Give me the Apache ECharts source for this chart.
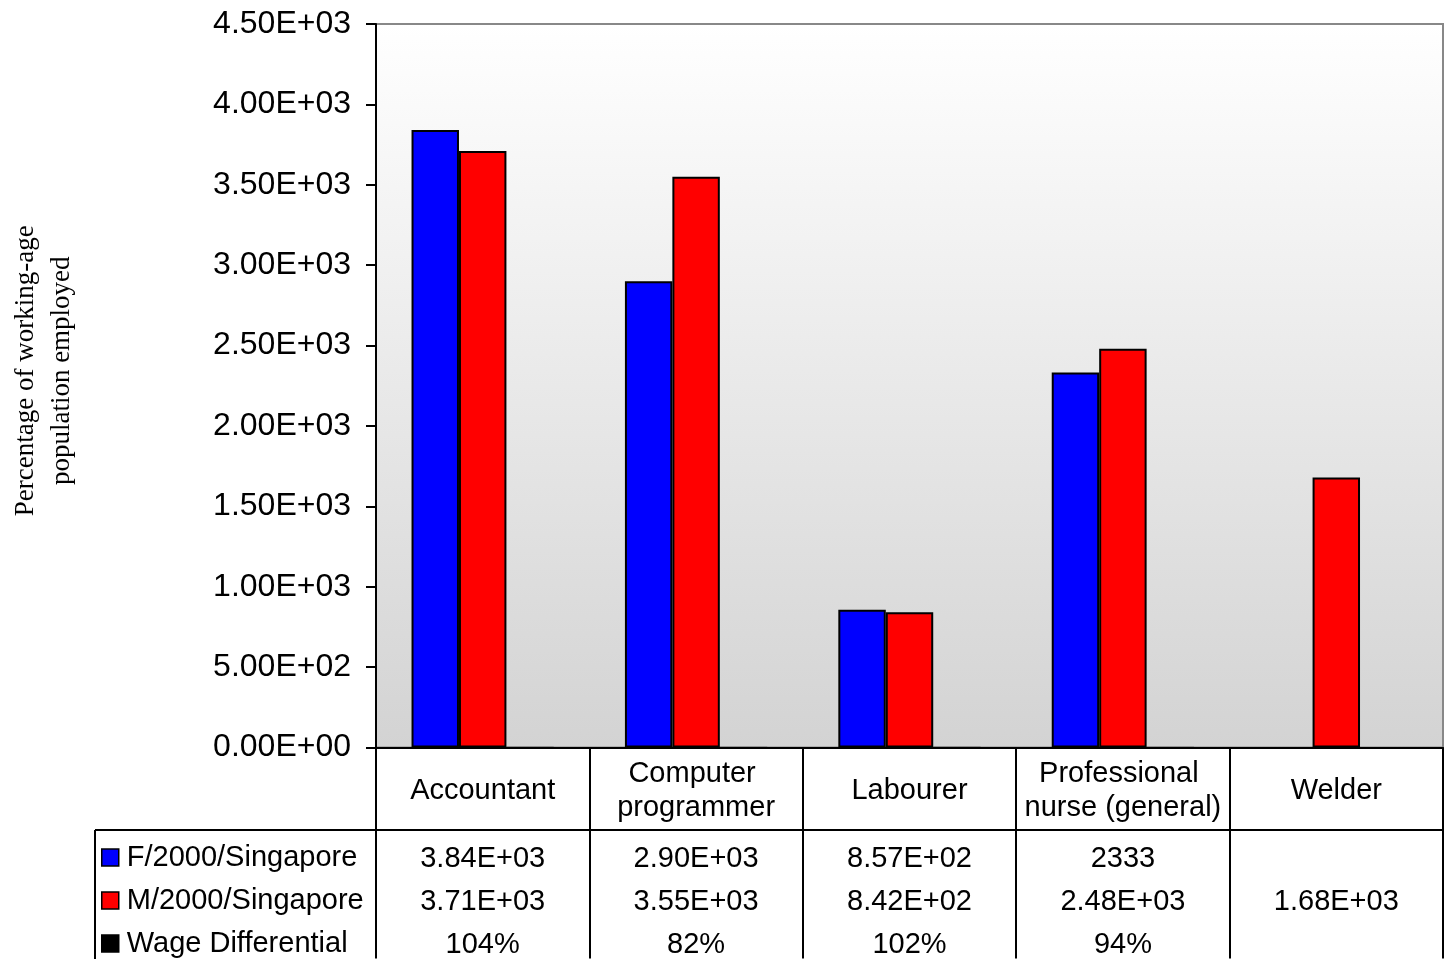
<!DOCTYPE html>
<html>
<head>
<meta charset="utf-8">
<script src="https://cdn.jsdelivr.net/npm/echarts@6/dist/echarts.min.js"></script>
<style>
html,body{margin:0;padding:0;background:#fff;}
#chart{width:1449px;height:959px;}
</style>
</head>
<body>
<div id="chart"></div>
<script>
// ---- data ----
const categories = ['Accountant', 'Computer programmer', 'Labourer', 'Professional nurse (general)', 'Welder'];
const femaleName = 'F/2000/Singapore';
const maleName = 'M/2000/Singapore';
const wageName = 'Wage Differential';
const femaleValues = [3840, 2900, 857, 2333, null];
const maleValues = [3710, 3550, 842, 2480, 1680];
const wageValues = [1.04, 0.82, 1.02, 0.94, null];
const femaleTableText = ['3.84E+03', '2.90E+03', '8.57E+02', '2333', ''];
const maleTableText = ['3.71E+03', '3.55E+03', '8.42E+02', '2.48E+03', '1.68E+03'];
const wageTableText = ['104%', '82%', '102%', '94%', ''];
const yMin = 0, yMax = 4500, yInterval = 500;

// ---- layout ----
const W = 1449, H = 959;
const gridLeft = 375, gridRight = 6, gridTop = 24, gridBottom = 211;
const tableLeft = 95, headerRowBottom = 830;
const sans = 'Liberation Sans';

function sci(v) {
  if (v === 0) return '0.00E+00';
  const e = Math.floor(Math.log10(Math.abs(v)));
  const m = v / Math.pow(10, e);
  return m.toFixed(2) + 'E' + (e < 0 ? '-' : '+') + String(Math.abs(e)).padStart(2, '0');
}

function rowAxis(texts, margin) {
  return {
    type: 'category', gridIndex: 0, position: 'bottom', data: categories,
    axisLine: {show: false}, axisTick: {show: false}, splitLine: {show: false},
    axisLabel: {
      interval: 0, margin: margin, verticalAlign: 'middle', align: 'center',
      fontFamily: sans, fontSize: 29, color: '#000',
      formatter: (v, i) => texts[i]
    }
  };
}

const chart = echarts.init(document.getElementById('chart'), null, {renderer: 'canvas'});
const option = {
  animation: false,
  backgroundColor: '#fff',
  grid: {
    left: gridLeft, right: gridRight, top: gridTop, bottom: gridBottom,
    show: true, borderColor: '#888', borderWidth: 2,
    backgroundColor: new echarts.graphic.LinearGradient(0, 0, 0, 1, [
      {offset: 0, color: '#ffffff'}, {offset: 1, color: '#d3d3d3'}
    ])
  },
  legend: {
    data: [femaleName, maleName, wageName],
    orient: 'vertical', left: 101, top: 836, height: 200, padding: 0, itemGap: 0,
    itemWidth: 17, itemHeight: 17, icon: 'rect', selectedMode: false,
    itemStyle: {borderColor: '#000', borderWidth: 1.5},
    textStyle: {fontFamily: sans, fontSize: 29, color: '#000', lineHeight: 43, padding: [0, 0, 0, 3]}
  },
  xAxis: [
    {
      type: 'category', gridIndex: 0, position: 'bottom', data: categories,
      axisLine: {show: true, lineStyle: {color: '#000', width: 2}},
      axisTick: {show: true, inside: false, length: gridBottom, lineStyle: {color: '#000', width: 2}},
      splitLine: {show: false},
      axisLabel: {
        interval: 0, margin: 43, verticalAlign: 'middle', align: 'center',
        fontFamily: sans, fontSize: 29, color: '#000', lineHeight: 34,
        width: 205, overflow: 'break'
      }
    },
    rowAxis(femaleTableText, 111),
    rowAxis(maleTableText, 154),
    rowAxis(wageTableText, 197)
  ],
  yAxis: {
    type: 'value', min: yMin, max: yMax, interval: yInterval,
    name: 'Percentage of working-age\npopulation employed',
    nameLocation: 'middle', nameGap: 296,
    nameTextStyle: {fontFamily: 'Liberation Serif', fontSize: 27, color: '#000', lineHeight: 36, padding: [0, 0, 0, 30]},
    axisLine: {show: true, lineStyle: {color: '#000', width: 2}},
    axisTick: {show: true, inside: false, length: 10, lineStyle: {color: '#000', width: 2}},
    splitLine: {show: false},
    axisLabel: {margin: 25, fontFamily: sans, fontSize: 32, color: '#000', formatter: sci}
  },
  series: [
    {
      name: femaleName, type: 'bar', data: femaleValues, xAxisIndex: 0,
      barGap: '0%', barCategoryGap: '33.3%',
      itemStyle: {color: '#0000ff', borderColor: '#000', borderWidth: 2}
    },
    {
      name: maleName, type: 'bar', data: maleValues, xAxisIndex: 0,
      barGap: '0%', barCategoryGap: '33.3%',
      itemStyle: {color: '#ff0000', borderColor: '#000', borderWidth: 2}
    },
    {
      name: wageName, type: 'bar', data: wageValues, xAxisIndex: 0,
      barGap: '0%', barCategoryGap: '33.3%',
      itemStyle: {color: '#000', borderColor: '#000', borderWidth: 1}
    }
  ],
  graphic: [
    {type: 'line', shape: {x1: tableLeft, y1: headerRowBottom, x2: W - gridRight, y2: headerRowBottom},
     style: {stroke: '#000', lineWidth: 2}},
    {type: 'line', shape: {x1: tableLeft, y1: headerRowBottom, x2: tableLeft, y2: H},
     style: {stroke: '#000', lineWidth: 2}}
  ]
};
chart.setOption(option);
</script>
</body>
</html>
